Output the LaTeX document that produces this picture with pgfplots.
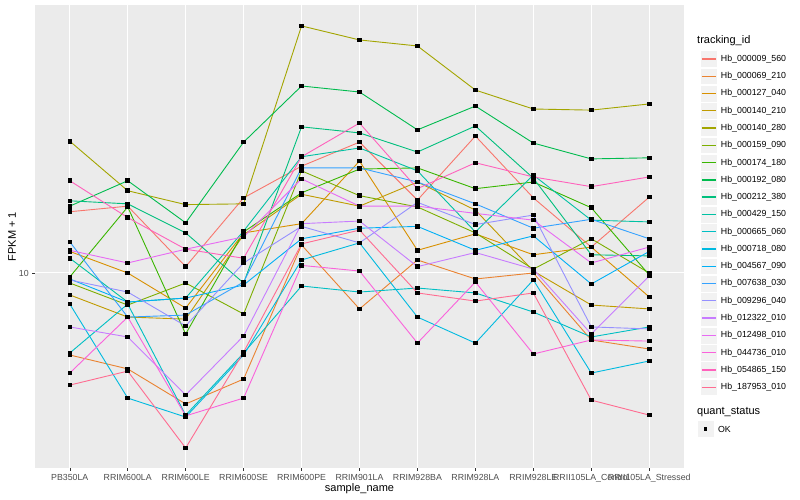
\documentclass[border=0pt]{standalone}
\usepackage{pgfplots}
\pgfplotsset{compat=1.18}
\usepackage{fontspec}
\setmainfont{Liberation Sans}

\definecolor{c1}{HTML}{F8766D}
\definecolor{c2}{HTML}{EA8331}
\definecolor{c3}{HTML}{D89000}
\definecolor{c4}{HTML}{C09B00}
\definecolor{c5}{HTML}{A3A500}
\definecolor{c6}{HTML}{7CAE00}
\definecolor{c7}{HTML}{39B600}
\definecolor{c8}{HTML}{00BB4E}
\definecolor{c9}{HTML}{00BF7D}
\definecolor{c10}{HTML}{00C1A3}
\definecolor{c11}{HTML}{00BFC4}
\definecolor{c12}{HTML}{00BAE0}
\definecolor{c13}{HTML}{00B0F6}
\definecolor{c14}{HTML}{35A2FF}
\definecolor{c15}{HTML}{9590FF}
\definecolor{c16}{HTML}{C77CFF}
\definecolor{c17}{HTML}{E76BF3}
\definecolor{c18}{HTML}{FA62DB}
\definecolor{c19}{HTML}{FF62BC}
\definecolor{c20}{HTML}{FF6C91}
\definecolor{panel}{HTML}{EBEBEB}
\definecolor{keybg}{HTML}{F2F2F2}
\definecolor{ticktxt}{HTML}{4D4D4D}
\definecolor{tickln}{HTML}{333333}

\begin{document}
\begin{tikzpicture}
\begin{axis}[
at={(35pt,32pt)}, anchor=south west,
scale only axis, width=649pt, height=463pt,
xmin=0.4, xmax=11.6,
ymode=log, ymin=2.239, ymax=78.2,
xtick={1,...,11},
xticklabels={PB350LA,RRIM600LA,RRIM600LE,RRIM600SE,RRIM600PE,RRIM901LA,RRIM928BA,RRIM928LA,RRIM928LE,RRII105LA\_Control,RRII105LA\_Stressed},
ytick={10}, yticklabels={10},
xminorticks=false, yminorticks=false,
grid=major, major grid style={white, line width=1pt},
axis background/.style={fill=panel},
axis line style={draw=none},
tick align=outside, xtick pos=left, ytick pos=left,
major tick length=2.75pt,
tick style={tickln, line width=0.5pt},
ticklabel style={font=\fontsize{8.8}{10}\selectfont, text=ticktxt},
xlabel={sample\_name}, ylabel={FPKM + 1},
label style={font=\fontsize{11}{13}\selectfont},
xlabel style={at={(axis description cs:0.5,-0.0454)}, anchor=center},
ylabel style={at={(axis description cs:-0.0354,0.5)}, anchor=center},
every axis plot/.append style={line width=0.9pt, mark=square*, mark size=1.8pt, mark options={black, solid}},
legend style={at={(1.02,0.907)}, anchor=north west, draw=none, fill=none,
  font=\fontsize{8.8}{10}\selectfont, nodes={inner sep=0pt}, row sep=0pt, column sep=3.5pt},
legend cell align=left,
legend image code/.code={
  \filldraw[fill=keybg, draw=white, line width=0.5pt] (0.25pt,-8.39pt) rectangle (17.03pt,8.39pt);
  \draw[#1, mark=none, line width=1.3pt] (1.7pt,0pt) -- (15.6pt,0pt);
},
]
\addplot[c1] coordinates {(1,16.0)(2,16.7)(3,10.5)(4,17.8)(5,22.7)(6,27.3)(7,17.5)(8,28.6)(9,17.8)(10,12.2)(11,17.9)};
\addplot[c2] coordinates {(1,5.33)(2,4.79)(3,3.66)(4,4.43)(5,12.4)(6,7.59)(7,11.05)(8,9.55)(9,10.0)(10,5.98)(11,5.58)};
\addplot[c3] coordinates {(1,11.8)(2,10.0)(3,7.64)(4,13.6)(5,14.6)(6,23.6)(7,11.9)(8,13.5)(9,11.5)(10,12.2)(11,8.32)};
\addplot[c4] coordinates {(1,8.45)(2,7.13)(3,7.02)(4,13.4)(5,18.3)(6,16.7)(7,20.1)(8,16.2)(9,10.15)(10,7.82)(11,7.59)};
\addplot[c5] coordinates {(1,27.5)(2,18.8)(3,16.9)(4,17.0)(5,66.6)(6,59.8)(7,57.1)(8,40.7)(9,35.2)(10,34.9)(11,36.6)};
\addplot[c6] coordinates {(1,9.26)(2,7.82)(3,9.26)(4,7.30)(5,21.9)(6,18.1)(7,16.6)(8,13.6)(9,10.3)(10,13.0)(11,10.0)};
\addplot[c7] coordinates {(1,9.70)(2,16.6)(3,6.26)(4,13.7)(5,18.5)(6,22.2)(7,22.4)(8,19.1)(9,20.1)(10,16.5)(11,9.85)};
\addplot[c8] coordinates {(1,16.7)(2,20.3)(3,14.7)(4,27.3)(5,42.0)(6,40.1)(7,30.0)(8,36.0)(9,27.1)(10,24.0)(11,24.2)};
\addplot[c9] coordinates {(1,17.4)(2,17.0)(3,13.6)(4,9.26)(5,30.7)(6,29.3)(7,25.3)(8,30.9)(9,20.7)(10,11.5)(11,11.4)};
\addplot[c10] coordinates {(1,11.2)(2,8.00)(3,8.25)(4,13.8)(5,24.4)(6,26.1)(7,21.9)(8,13.7)(9,21.2)(10,15.0)(11,14.8)};
\addplot[c11] coordinates {(1,5.41)(2,7.88)(3,3.36)(4,5.41)(5,9.05)(6,8.64)(7,8.91)(8,8.58)(9,7.41)(10,6.12)(11,6.61)};
\addplot[c12] coordinates {(1,7.88)(2,3.83)(3,3.31)(4,5.33)(5,11.05)(6,12.6)(7,7.13)(8,5.84)(9,9.48)(10,4.64)(11,5.09)};
\addplot[c13] coordinates {(1,9.55)(2,8.00)(3,8.25)(4,9.12)(5,13.0)(6,14.1)(7,14.3)(8,11.9)(9,13.3)(10,9.19)(11,11.8)};
\addplot[c14] coordinates {(1,12.7)(2,7.13)(3,7.24)(4,9.33)(5,22.4)(6,22.4)(7,20.1)(8,17.0)(9,14.1)(10,15.1)(11,13.0)};
\addplot[c15] coordinates {(1,9.48)(2,8.64)(3,6.66)(4,10.8)(5,14.3)(6,12.6)(7,17.2)(8,14.5)(9,15.6)(10,6.61)(11,6.51)};
\addplot[c16] coordinates {(1,6.61)(2,6.12)(3,3.92)(4,6.17)(5,14.6)(6,14.9)(7,10.5)(8,11.7)(9,10.3)(10,6.26)(11,9.77)};
\addplot[c17] coordinates {(1,11.9)(2,10.8)(3,12.0)(4,13.2)(5,20.6)(6,16.7)(7,16.7)(8,15.8)(9,15.0)(10,10.8)(11,12.2)};
\addplot[c18] coordinates {(1,4.64)(2,7.13)(3,3.34)(4,3.83)(5,10.6)(6,10.15)(7,5.84)(8,9.33)(9,5.37)(10,5.98)(11,5.93)};
\addplot[c19] coordinates {(1,20.3)(2,15.3)(3,12.0)(4,11.2)(5,24.4)(6,31.6)(7,19.1)(8,23.3)(9,20.9)(10,19.4)(11,20.9)};
\addplot[c20] coordinates {(1,4.23)(2,4.71)(3,2.61)(4,5.45)(5,12.5)(6,13.9)(7,8.58)(8,8.06)(9,8.58)(10,3.77)(11,3.36)};
\legend{Hb\_000009\_560,Hb\_000069\_210,Hb\_000127\_040,Hb\_000140\_210,Hb\_000140\_280,Hb\_000159\_090,Hb\_000174\_180,Hb\_000192\_080,Hb\_000212\_380,Hb\_000429\_150,Hb\_000665\_060,Hb\_000718\_080,Hb\_004567\_090,Hb\_007638\_030,Hb\_009296\_040,Hb\_012322\_010,Hb\_012498\_010,Hb\_044736\_010,Hb\_054865\_150,Hb\_187953\_010}
\end{axis}
% legend titles and the shape legend
\node[anchor=west, inner sep=0pt, font=\fontsize{11}{13}\selectfont] at (697pt,459.3pt) {tracking\_id};
\node[anchor=west, inner sep=0pt, font=\fontsize{11}{13}\selectfont] at (697pt,87.7pt) {quant\_status};
\filldraw[fill=keybg, draw=white, line width=0.5pt] (697pt,62.4pt) rectangle (714.3pt,79.6pt);
\fill[black] (703.8pt,69.2pt) rectangle (707.4pt,72.8pt);
\node[anchor=west, inner sep=0pt, font=\fontsize{8.8}{10}\selectfont] at (717.8pt,71pt) {OK};
\path[use as bounding box] (0,0) rectangle (800pt,500pt);
\end{tikzpicture}
\end{document}
